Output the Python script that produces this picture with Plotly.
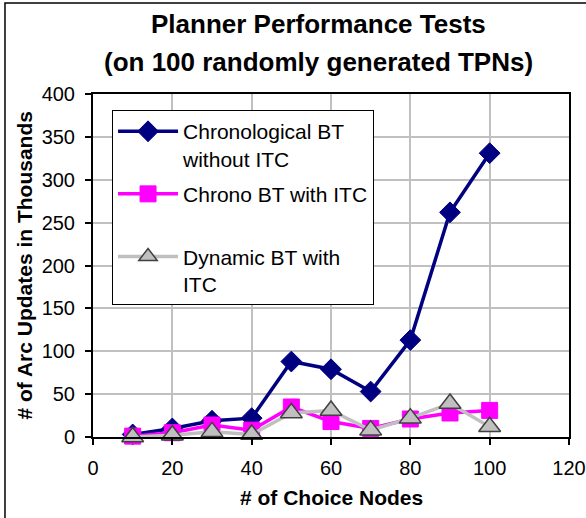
import plotly.graph_objects as go

choice_nodes = [10, 20, 30, 40, 50, 60, 70, 80, 90, 100]
chrono_no_itc = [3, 10, 19, 22, 88, 79, 53, 113, 262, 331]
chrono_itc = [1, 5, 14, 8, 35, 18, 10, 21, 28, 31]
dynamic_itc = [0, 2, 6, 3, 28, 31, 8, 22, 39, 12]

names = ["Chronological BT<br>without ITC", "Chrono BT with ITC<br> ", "Dynamic BT with<br>ITC"]

FONT = "Liberation Sans, Arial, sans-serif"

fig = go.Figure()
fig.add_trace(go.Scatter(
    x=choice_nodes, y=chrono_no_itc, name=names[0], mode="lines+markers", legendgroup="a",
    line=dict(color="#000080", width=3.5),
    marker=dict(symbol="diamond", size=16, color="#000080", line=dict(color="#000080", width=1)),
    cliponaxis=False))
fig.add_trace(go.Scatter(
    x=choice_nodes, y=chrono_itc, name=names[1], mode="lines+markers", legendgroup="b",
    line=dict(color="#FF00FF", width=3.5),
    marker=dict(symbol="square", size=16, color="#FF00FF", line=dict(color="#FF00FF", width=1)),
    cliponaxis=False))
fig.add_trace(go.Scatter(
    x=choice_nodes, y=dynamic_itc, name=names[2], mode="lines+markers", legendgroup="c",
    line=dict(color="#C0C0C0", width=3.5),
    marker=dict(symbol="triangle-up", size=19, color="#C0C0C0", line=dict(color="#404040", width=1.5)),
    cliponaxis=False))

fig.update_layout(
    width=586, height=518,
    margin=dict(l=93, r=17, t=94, b=81, autoexpand=False),
    paper_bgcolor="white", plot_bgcolor="white",
    font=dict(family=FONT, size=20, color="black"),
    showlegend=True,
    legend=dict(
        x=0.040, y=0.953, xanchor="left", yanchor="top",
        bgcolor="white", bordercolor="black", borderwidth=1,
        font=dict(family=FONT, size=21, color="black"),
        valign="top", itemwidth=60, tracegroupgap=5,
    ),
    xaxis=dict(
        range=[0, 120], tickmode="linear", tick0=0, dtick=20,
        showgrid=True, gridcolor="#C0C0C0", gridwidth=1.5,
        showline=True, linecolor="black", linewidth=2, mirror=True,
        ticks="outside", ticklen=6, tickcolor="black", tickwidth=1.5,
        tickfont=dict(family=FONT, size=20, color="black"),
        ticklabelstandoff=6, zeroline=False,
    ),
    yaxis=dict(
        range=[0, 400], tickmode="linear", tick0=0, dtick=50,
        showgrid=True, gridcolor="#C0C0C0", gridwidth=1.5,
        showline=True, linecolor="black", linewidth=2, mirror=True,
        ticks="outside", ticklen=6, tickcolor="black", tickwidth=1.5,
        tickfont=dict(family=FONT, size=20, color="black"),
        ticklabelstandoff=6, zeroline=False,
    ),
    annotations=[
        dict(text="<b>Planner Performance Tests</b>", xref="paper", yref="paper",
             x=0.4727, y=1.2040, xanchor="center", yanchor="middle", showarrow=False,
             font=dict(family=FONT, size=26, color="black")),
        dict(text="<b>(on 100 randomly generated TPNs)</b>", xref="paper", yref="paper",
             x=0.4727, y=1.0933, xanchor="center", yanchor="middle", showarrow=False,
             font=dict(family=FONT, size=26, color="black")),
        dict(text="<b># of Choice Nodes</b>", xref="paper", yref="paper",
             x=0.5, y=-0.175, xanchor="center", yanchor="middle", showarrow=False,
             font=dict(family=FONT, size=21, color="black")),
        dict(text="<b># of Arc Updates in Thousands</b>", xref="paper", yref="paper",
             x=-0.1429, y=0.5, xanchor="center", yanchor="middle", showarrow=False,
             textangle=-90, font=dict(family=FONT, size=21, color="black")),
    ],
    shapes=[
        dict(type="rect", xref="paper", yref="paper",
             x0=-0.1849, y0=-0.271, x1=1.065, y1=1.2653,
             line=dict(color="black", width=1.5), fillcolor="rgba(0,0,0,0)", layer="below"),
    ],
)

fig.write_html("out.html", config={"displayModeBar": False},
               post_script="document.body.style.margin='0';document.body.style.padding='0';")
